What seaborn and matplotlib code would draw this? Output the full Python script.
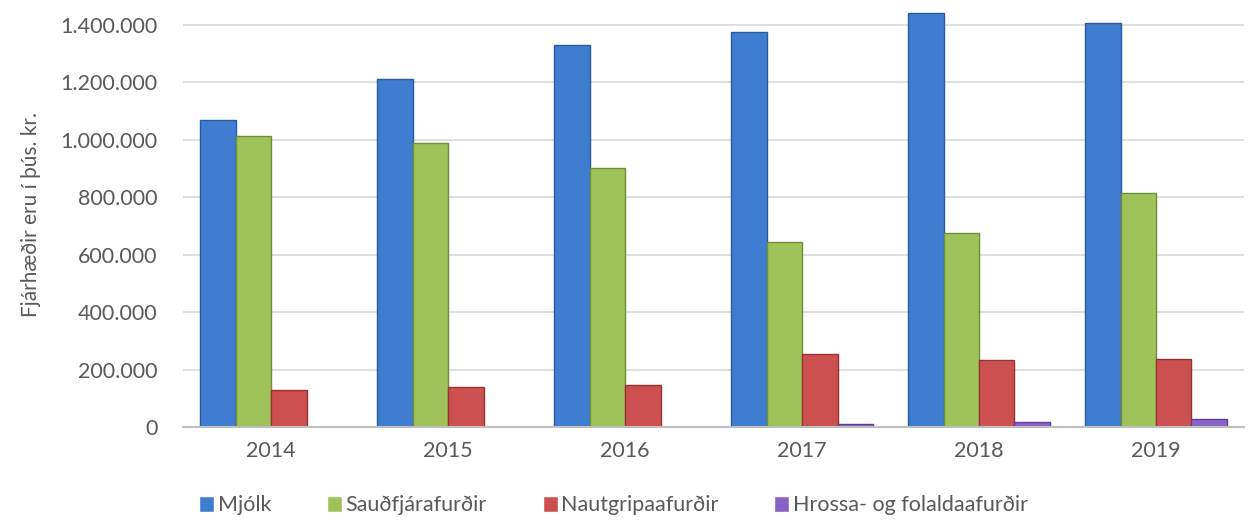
import matplotlib
matplotlib.use("Agg")
import matplotlib.pyplot as plt
import matplotlib.ticker as mticker
import pandas as pd
import seaborn as sns

# ----------------------------
# Data (þús. kr.)
# ----------------------------
years = ["2014", "2015", "2016", "2017", "2018", "2019"]
mjolk = [1067000, 1212000, 1328000, 1376000, 1440000, 1407000]
saudfjar = [1014000, 990000, 901000, 645000, 676000, 815000]
nautgripa = [128000, 139000, 145000, 254000, 235000, 236000]
hrossa = [2000, 2000, 2000, 10000, 17000, 30000]

series_names = ["Mjólk", "Sauðfjárafurðir", "Nautgripaafurðir", "Hrossa- og folaldaafurðir"]
colors = ["#3F7DD1", "#9FC35A", "#CD5050", "#8A62C6"]
edges = ["#2A5A9E", "#6F8E38", "#963332", "#5E3F91"]

rows = []
for name, vals in zip(series_names, [mjolk, saudfjar, nautgripa, hrossa]):
    for y, v in zip(years, vals):
        rows.append({"Ár": y, "Flokkur": name, "Upphæð": v})
df = pd.DataFrame(rows)

# ----------------------------
# Plot
# ----------------------------
sns.set_theme(style="white")
plt.rcParams["font.family"] = ["Lato", "DejaVu Sans"]

fig = plt.figure(figsize=(12.52, 5.32), dpi=100)
ax = fig.add_axes([0.146, 0.197, 0.848, 0.80])

sns.barplot(data=df, x="Ár", y="Upphæð", hue="Flokkur", hue_order=series_names,
            palette=colors, saturation=1, width=0.8, gap=0, ax=ax, legend=True)

for i, cont in enumerate(ax.containers):
    for bar in cont:
        bar.set_edgecolor(edges[i])
        bar.set_linewidth(1.0)

ax.set_ylim(0, 1480000)
ax.set_xlim(-0.5, 5.5)
ax.yaxis.set_major_locator(mticker.MultipleLocator(200000))
ax.yaxis.set_major_formatter(mticker.FuncFormatter(lambda v, p: f"{int(v):,}".replace(",", ".")))
ax.grid(axis="y", color="#D9D9D9", linewidth=1.2)
ax.set_axisbelow(True)
for s in ["top", "right", "left"]:
    ax.spines[s].set_visible(False)
ax.spines["bottom"].set_color("#BFBFBF")
ax.spines["bottom"].set_linewidth(1.5)

ax.tick_params(axis="both", colors="#595959", labelsize=15.5, length=0)
ax.tick_params(axis="x", pad=10)
ax.tick_params(axis="y", pad=18)
ax.set_xlabel("")
ax.set_ylabel("Fjárhæðir eru í þús. kr.", color="#595959", fontsize=15, labelpad=14)

handles, labels = ax.get_legend_handles_labels()
ax.legend_.remove()
fig.legend(handles, labels, loc="center", bbox_to_anchor=(0.49, 0.05), ncol=4,
           frameon=False, fontsize=15.5, handlelength=0.7, handleheight=0.8,
           handletextpad=0.15, columnspacing=2.6, labelcolor="#595959")

fig.savefig("out.png", dpi=100)
